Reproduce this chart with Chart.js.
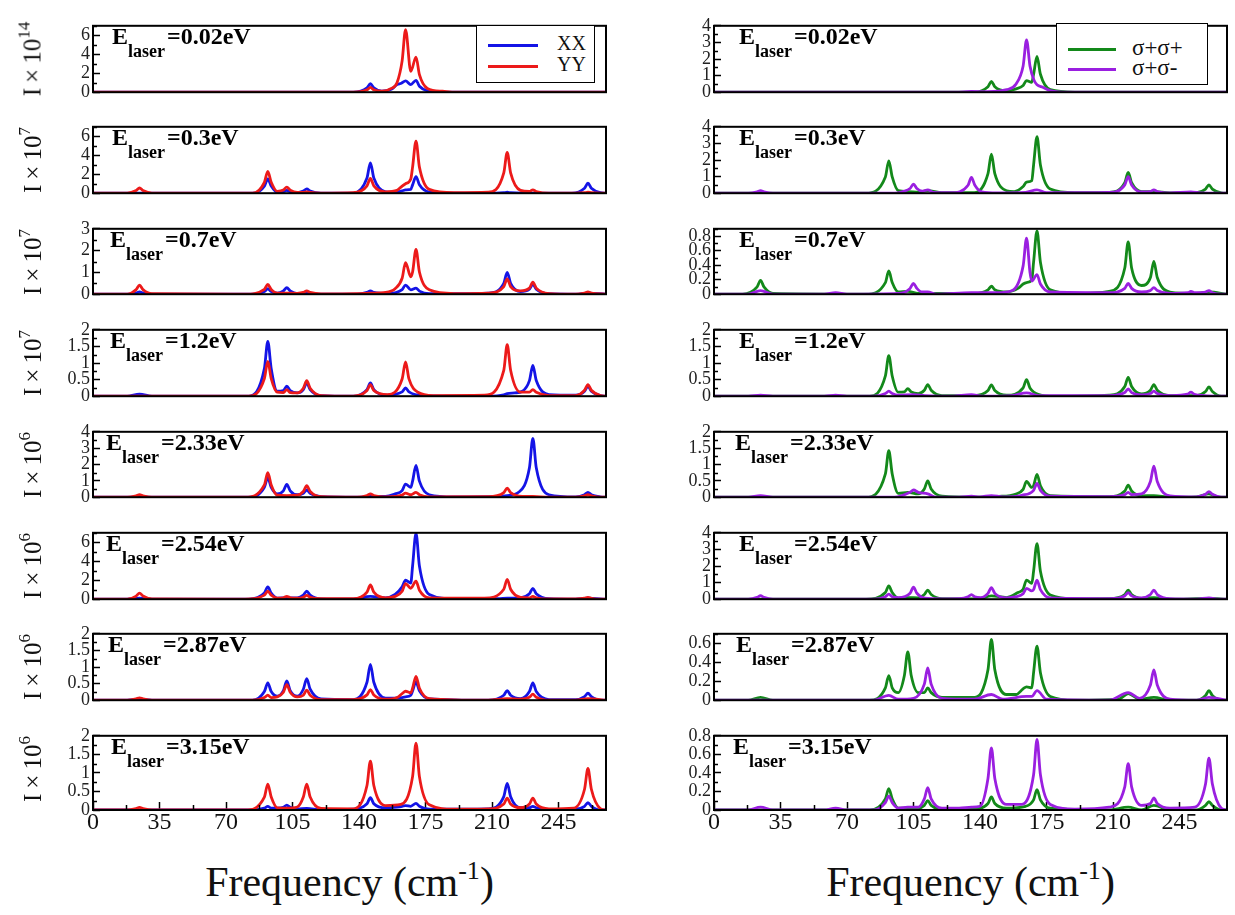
<!DOCTYPE html>
<html><head><meta charset="utf-8">
<script src="https://cdn.jsdelivr.net/npm/chart.js@4.4.1/dist/chart.umd.min.js"></script>
<style>
html,body{margin:0;padding:0;background:#fff;}
body{width:1235px;height:915px;position:relative;overflow:hidden;font-family:"Liberation Serif","Times New Roman",serif;color:#111;}
canvas{position:absolute;}
.yt{position:absolute;transform:translate(-50%,-50%) rotate(-90deg);white-space:nowrap;font-size:25px;line-height:1;}
.yt sup{font-size:17px;vertical-align:11px;line-height:1;}
.el{position:absolute;font-weight:bold;font-size:24px;line-height:1;white-space:nowrap;color:#000;}
.el sub{font-size:18px;vertical-align:-13px;line-height:1;margin-right:2px;}
.box{position:absolute;border:1.5px solid #000;background:#fff;box-sizing:border-box;}
.ln{position:absolute;height:3px;}
.lt{position:absolute;line-height:1;white-space:nowrap;}
.xt{position:absolute;font-size:42px;line-height:1;transform:translateX(-50%);white-space:nowrap;}
.xt sup{font-size:26px;vertical-align:17px;line-height:1;}
</style></head>
<body>
<script>
// ---------- data: Raman intensity spectra ----------
// frequency (cm^-1), intensity pairs
const L1_XX=[[0,0],[137,0],[144.2,.45],[146,.9],[147.8,.45],[152,.1],[157,.3],[160,.8],[162.3,.95],[164.5,1.2],[167.25,.8],[170,1.25],[171.8,.63],[176,.15],[184,0],[270,0]];
const L1_YY=[[0,0],[137,0],[144.2,.25],[146,.5],[147.8,.25],[152,.1],[157,.4],[160,1.0],[162.7,3.3],[164.5,6.6],[167.25,2.2],[170,3.7],[171.8,1.85],[176,.4],[184,.1],[191,0],[270,0]];
const L2_XX=[[0,0],[84,0],[90.2,.75],[92,1.5],[93.8,.75],[97,.1],[100.2,.15],[102,.3],[103.8,.15],[107.5,.05],[110.7,.22],[112.5,.45],[114.3,.22],[120,0],[137,0],[144.2,1.6],[146,3.2],[147.8,1.6],[154,.15],[160,.1],[162.7,.25],[164.5,.35],[167.25,.4],[168.2,.88],[170,1.75],[171.8,.88],[177,.12],[190,0],[212,0],[216.2,.05],[218,.1],[219.8,.05],[226,0],[252,0],[258.7,.52],[260.5,1.05],[262.3,.52],[267,.05],[270,0]];
const L2_YY=[[0,0],[18,0],[22.7,.28],[24.5,.55],[26.3,.28],[31,0],[84,0],[90.2,1.15],[92,2.3],[93.8,1.15],[97,.2],[100.2,.33],[102,.65],[103.8,.33],[107.5,.08],[110.7,.08],[112.5,.15],[114.3,.08],[120,0],[137,.05],[144.2,.78],[146,1.55],[147.8,.78],[154,.15],[160,.3],[162.7,.75],[164.5,1.0],[167.25,1.5],[168.2,2.75],[170,5.5],[171.8,2.75],[177,.4],[190,.05],[208,.1],[216.2,2.15],[218,4.3],[219.8,2.15],[225,.3],[229.7,.18],[231.5,.35],[233.3,.18],[240,0],[254,0],[258.7,.05],[260.5,.1],[262.3,.05],[270,0]];
const L3_XX=[[0,0],[18,0],[22.7,.05],[24.5,.1],[26.3,.05],[31,0],[84,0],[90.2,.12],[92,.25],[93.8,.12],[97,.05],[100.2,.15],[102,.3],[103.8,.15],[107.5,.03],[112.5,.05],[120,0],[139,0],[144.2,.08],[146,.15],[147.8,.08],[155,.03],[162.7,.21],[164.5,.42],[167.25,.2],[170,.28],[171.8,.14],[177,.02],[208,.05],[216.2,.5],[218,1.0],[219.8,.5],[225,.12],[229.7,.23],[231.5,.45],[233.3,.23],[240,.02],[254,0],[260.5,.05],[270,0]];
const L3_YY=[[0,0],[18,0],[22.7,.21],[24.5,.42],[26.3,.21],[31,.02],[80,0],[90.2,.22],[92,.45],[93.8,.22],[97,.05],[102,.05],[107.5,.04],[110.7,.08],[112.5,.15],[114.3,.08],[120,.01],[139,.02],[146,.05],[154,.08],[159,.25],[162.7,.73],[164.5,1.45],[167.25,.8],[168.2,1.02],[170,2.05],[171.8,1.02],[177,.2],[190,.03],[208,.05],[216.2,.35],[218,.7],[219.8,.35],[225,.15],[229.7,.28],[231.5,.55],[233.3,.28],[240,.03],[254,0],[258.7,.05],[260.5,.1],[262.3,.05],[270,0]];
const L4_XX=[[0,0],[18,0],[24.5,.06],[31,0],[82,0],[90.2,.83],[92,1.65],[93.8,.83],[97,.15],[100.2,.17],[102,.3],[103.8,.17],[107.5,.1],[110.7,.2],[112.5,.4],[114.3,.2],[120,.02],[137,0],[144.2,.2],[146,.4],[147.8,.2],[154,.03],[162.7,.13],[164.5,.25],[166.3,.13],[174,.02],[208,0],[216.2,.04],[218,.08],[222,.1],[226,.15],[229.7,.47],[231.5,.93],[233.3,.47],[240,.05],[254,.03],[258.7,.15],[260.5,.3],[262.3,.15],[267,.02],[270,0]];
const L4_YY=[[0,0],[82,0],[90.2,.53],[92,1.05],[93.8,.53],[97,.12],[100.2,.11],[102,.2],[103.8,.11],[107.5,.1],[110.7,.24],[112.5,.47],[114.3,.24],[120,.02],[137,0],[144.2,.17],[146,.35],[147.8,.17],[155,.05],[162.7,.52],[164.5,1.03],[166.3,.52],[171,.12],[179,.02],[206,.03],[216.2,.78],[218,1.55],[219.8,.78],[225,.12],[229.7,.12],[231.5,.2],[233.3,.12],[240,.02],[254,.02],[258.7,.18],[260.5,.35],[262.3,.18],[267,.02],[270,0]];
const L5_XX=[[0,0],[18,0],[24.5,.05],[31,0],[82,0],[90.2,.6],[92,1.2],[93.8,.6],[97,.2],[100.2,.39],[102,.78],[103.8,.39],[107.5,.15],[110.7,.23],[112.5,.45],[114.3,.23],[120,.03],[139,0],[146,.05],[154,.05],[159,.2],[162.7,.4],[164.5,.8],[167.25,.6],[168.2,.98],[170,1.95],[171.8,.98],[177,.15],[190,.02],[213,.05],[218,.1],[224,.3],[229.7,1.8],[231.5,3.6],[233.3,1.8],[240,.15],[254,.02],[258.7,.15],[260.5,.3],[262.3,.15],[267,.02],[270,0]];
const L5_YY=[[0,0],[18,0],[22.7,.08],[24.5,.15],[26.3,.08],[31,0],[80,0],[90.2,.75],[92,1.5],[93.8,.75],[97,.12],[102,.1],[107.5,.12],[110.7,.35],[112.5,.7],[114.3,.35],[120,.03],[139,0],[144.2,.1],[146,.2],[147.8,.1],[155,.02],[162.7,.13],[164.5,.25],[167.25,.15],[170,.3],[171.8,.15],[177,.02],[208,.03],[216.2,.28],[218,.55],[219.8,.28],[226,.05],[231.5,.05],[240,0],[254,0],[258.7,.08],[260.5,.15],[262.3,.08],[267,0],[270,0]];
const L6_XX=[[0,0],[18,0],[24.5,.1],[31,0],[82,0],[90.2,.65],[92,1.3],[93.8,.65],[97,.12],[102,.15],[107.5,.15],[110.7,.43],[112.5,.85],[114.3,.43],[120,.04],[137,0],[146,.3],[154,.15],[159,.5],[162.7,1.3],[164.5,2.0],[167.25,1.7],[168.2,3.5],[170,6.95],[171.8,3.5],[177,.5],[190,.05],[213,.05],[218,.1],[225,.15],[229.7,.58],[231.5,1.15],[233.3,.58],[240,.05],[254,0],[260.5,.1],[270,0]];
const L6_YY=[[0,0],[18,0],[22.7,.33],[24.5,.65],[26.3,.33],[31,.02],[80,0],[90.2,.43],[92,.85],[93.8,.43],[97,.12],[100.2,.15],[102,.3],[103.8,.15],[107.5,.1],[110.7,.2],[112.5,.4],[114.3,.2],[120,.05],[137,.05],[144.2,.75],[146,1.5],[147.8,.75],[154,.15],[159,.3],[162.7,.83],[164.5,1.65],[167.25,1.15],[170,1.9],[171.8,.95],[177,.15],[206,.1],[216.2,1.05],[218,2.1],[219.8,1.05],[225,.2],[229.7,.15],[231.5,.3],[233.3,.15],[240,.02],[254,.02],[258.7,.1],[260.5,.2],[262.3,.1],[267,0],[270,0]];
const L7_XX=[[0,0],[18,0],[24.5,.03],[31,0],[84,0],[90.2,.26],[92,.52],[93.8,.26],[97,.12],[100.2,.29],[102,.58],[103.8,.29],[107.5,.12],[110.7,.33],[112.5,.65],[114.3,.33],[120,.04],[137,.02],[144.2,.54],[146,1.08],[147.8,.54],[154,.06],[162.7,.08],[164.5,.1],[167.25,.15],[168.2,.28],[170,.55],[171.8,.28],[177,.04],[208,0],[216.2,.15],[218,.29],[219.8,.15],[225,.05],[229.7,.26],[231.5,.52],[233.3,.26],[240,.02],[254,.02],[258.7,.11],[260.5,.21],[262.3,.11],[267,0],[270,0]];
const L7_YY=[[0,0],[18,0],[22.7,.04],[24.5,.07],[26.3,.04],[31,0],[84,0],[90.2,.08],[92,.15],[93.8,.08],[97,.1],[100.2,.24],[102,.47],[103.8,.24],[107.5,.1],[110.7,.15],[112.5,.3],[114.3,.15],[120,.02],[137,.02],[144.2,.16],[146,.32],[147.8,.16],[154,.03],[160,.08],[162.7,.2],[164.5,.27],[167.25,.22],[168.2,.36],[170,.72],[171.8,.36],[177,.05],[208,0],[218,.05],[225,.03],[229.7,.09],[231.5,.18],[233.3,.09],[240,0],[254,0],[260.5,.05],[270,0]];
const L8_XX=[[0,0],[84,0],[90.2,.05],[92,.1],[93.8,.05],[97,.05],[100.2,.07],[102,.13],[103.8,.07],[107.5,.03],[112.5,.04],[120,.01],[137,.02],[144.2,.17],[146,.33],[147.8,.17],[154,.06],[160,.08],[162.7,.1],[164.5,.12],[167.25,.1],[170,.18],[171.8,.1],[177,.02],[208,.03],[216.2,.36],[218,.72],[219.8,.36],[225,.06],[229.7,.06],[231.5,.1],[233.3,.06],[240,0],[254,.02],[258.7,.1],[260.5,.2],[262.3,.1],[267,0],[270,0]];
const L8_YY=[[0,0],[18,0],[22.7,.04],[24.5,.07],[26.3,.04],[31,0],[80,0],[90.2,.35],[92,.7],[93.8,.35],[97,.06],[102,.05],[107.5,.08],[110.7,.35],[112.5,.7],[114.3,.35],[120,.04],[137,.03],[144.2,.66],[146,1.32],[147.8,.66],[154,.12],[162,.15],[168.2,.9],[170,1.8],[171.8,.9],[177,.14],[190,.02],[208,.03],[216.2,.16],[218,.32],[219.8,.16],[225,.06],[229.7,.16],[231.5,.32],[233.3,.16],[240,.03],[253,.05],[258.7,.56],[260.5,1.12],[262.3,.56],[267,.04],[270,0]];

const R1_PP=[[0,0],[137,0],[144.2,.33],[146,.65],[147.8,.33],[154,.08],[159,.2],[162.7,.4],[164.5,.7],[167.25,.6],[168.2,1.08],[170,2.15],[171.8,1.08],[177,.15],[190,0],[270,0]];
const R1_PM=[[0,0],[127,0],[135.5,.05],[144,.03],[154,.15],[159,.5],[162.7,1.58],[164.5,3.15],[166.3,1.58],[168.5,.7],[170,.45],[173,.3],[177,.1],[187,0],[270,0]];
const R2_PP=[[0,0],[80,0],[90.2,.98],[92,1.95],[93.8,.98],[97,.15],[102,.1],[107.5,.06],[112.5,.15],[120,.03],[137,.03],[144.2,1.18],[146,2.35],[147.8,1.18],[154,.15],[158,.1],[162.7,.4],[164.5,.67],[167.25,.75],[168.2,1.7],[170,3.4],[171.8,1.7],[177,.25],[190,.03],[208,.05],[216.2,.63],[218,1.25],[219.8,.63],[225,.1],[231.5,.1],[240,.02],[254,.03],[258.7,.25],[260.5,.5],[262.3,.25],[267,.02],[270,0]];
const R2_PM=[[0,0],[18,0],[22.7,.08],[24.5,.15],[26.3,.08],[31,0],[95,0],[99.5,.1],[103.2,.28],[105,.55],[106.8,.28],[109.5,.12],[112.5,.2],[115.5,.05],[125,.03],[133.7,.48],[135.5,.95],[137.3,.48],[141,.08],[149,.02],[164,.05],[170,.2],[175,.03],[208,.05],[216.2,.5],[218,1.0],[219.8,.5],[225,.08],[229.7,.1],[231.5,.2],[233.3,.1],[240,.02],[251,.08],[256,.02],[270,0]];
const R3_PP=[[0,0],[15,0],[22.7,.1],[24.5,.19],[26.3,.1],[31,.01],[80,0],[90.2,.16],[92,.32],[93.8,.16],[97,.03],[102,.04],[107.5,.01],[137,.01],[144.2,.06],[146,.11],[147.8,.06],[154,.03],[160,.08],[162.7,.14],[164.5,.16],[167.25,.2],[168.2,.44],[170,.87],[171.8,.44],[177,.06],[190,.01],[208,.04],[216.2,.36],[218,.72],[219.8,.36],[225,.12],[229.7,.23],[231.5,.45],[233.3,.23],[240,.03],[254,.01],[260.5,.03],[270,0]];
const R3_PM=[[0,0],[18,0],[24.5,.05],[31,0],[58,0],[64,.02],[70,0],[97,.01],[103.2,.08],[105,.15],[106.8,.08],[109.5,.03],[112.5,.03],[117,0],[135.5,.02],[149,.02],[157,.05],[162.7,.39],[164.5,.77],[166.3,.3],[167.25,.18],[170,.27],[171.8,.14],[177,.03],[208,.02],[216.2,.08],[218,.15],[219.8,.08],[225,.03],[229.7,.05],[231.5,.09],[233.3,.05],[240,.01],[249.5,.02],[251,.04],[253,.02],[258.7,.03],[260.5,.05],[262.3,.02],[267,0],[270,0]];
const R4_PP=[[0,0],[82,0],[90.2,.61],[92,1.22],[93.8,.61],[97,.12],[100.2,.13],[102,.23],[103.8,.13],[107.5,.08],[110.7,.18],[112.5,.35],[114.3,.18],[120,.02],[137,.02],[144.2,.17],[146,.34],[147.8,.17],[154,.03],[162.7,.25],[164.5,.5],[166.3,.25],[171,.05],[179,0],[208,.03],[216.2,.29],[218,.57],[219.8,.29],[225,.07],[229.7,.18],[231.5,.35],[233.3,.18],[240,.02],[254,.02],[258.7,.14],[260.5,.28],[262.3,.14],[267,0],[270,0]];
const R4_PM=[[0,0],[18,0],[24.5,.03],[31,0],[58,0],[64,.03],[70,0],[84,0],[90.2,.08],[92,.15],[93.8,.08],[97,.03],[105,.05],[111,.02],[125,0],[135.5,.05],[141,0],[157,.02],[164.5,.1],[171,.02],[208,.02],[216.2,.11],[218,.22],[219.8,.11],[225,.04],[229.7,.08],[231.5,.15],[233.3,.08],[241,.02],[249.2,.06],[251,.12],[252.8,.06],[258,.02],[270,0]];
const R5_PP=[[0,0],[80,0],[90.2,.71],[92,1.42],[93.8,.71],[97,.12],[102,.15],[107.5,.1],[110.7,.25],[112.5,.5],[114.3,.25],[120,.03],[139,0],[149,.02],[159,.1],[162.7,.24],[164.5,.48],[167.25,.3],[168.2,.35],[170,.7],[171.8,.35],[177,.05],[208,.02],[216.2,.19],[218,.37],[219.8,.19],[225,.04],[231.5,.05],[240,0],[254,.01],[260.5,.1],[266,0],[270,0]];
const R5_PM=[[0,0],[18,0],[24.5,.05],[31,0],[95,0],[103.2,.15],[105,.22],[107.5,.15],[112.5,.1],[117,0],[129,0],[135.5,.03],[140,.01],[146,.05],[152,.01],[162,.06],[168.2,.21],[170,.42],[171.8,.21],[177,.03],[208,.02],[216.2,.08],[218,.15],[219.8,.08],[225,.1],[229.7,.48],[231.5,.95],[233.3,.48],[240,.04],[254,.01],[258.7,.09],[260.5,.17],[262.3,.09],[267,0],[270,0]];
const R6_PP=[[0,0],[80,0],[90.2,.4],[92,.8],[93.8,.4],[97,.07],[102,.1],[107.5,.08],[110.7,.28],[112.5,.55],[114.3,.28],[120,.03],[139,.02],[146,.2],[154,.1],[160,.4],[162.7,.6],[164.5,1.15],[167.25,.95],[168.2,1.68],[170,3.35],[171.8,1.68],[177,.25],[190,.02],[208,.03],[216.2,.28],[218,.55],[219.8,.28],[225,.05],[231.5,.1],[240,0],[260.5,.05],[270,0]];
const R6_PM=[[0,0],[18,0],[22.7,.11],[24.5,.22],[26.3,.11],[31,0],[84,0],[90.2,.15],[92,.3],[93.8,.15],[97,.1],[103.2,.36],[105,.72],[106.8,.36],[111,.06],[120,.02],[129,.03],[133.7,.14],[135.5,.28],[137.3,.14],[140.5,.1],[144.2,.35],[146,.7],[147.8,.35],[154,.08],[159,.15],[162.7,.33],[164.5,.65],[167.25,.5],[168.2,.58],[170,1.15],[171.8,.58],[177,.08],[208,.04],[216.2,.2],[218,.4],[219.8,.2],[225,.08],[229.7,.28],[231.5,.55],[233.3,.28],[240,.03],[254,.01],[260.5,.08],[266,0],[270,0]];
const R7_PP=[[0,0],[18,0],[24.5,.03],[31,0],[82,0],[90.2,.13],[92,.26],[93.8,.13],[97,.08],[100.2,.26],[102,.51],[103.8,.26],[107.5,.08],[110.7,.08],[112.5,.13],[114.3,.08],[120,.03],[137,.03],[144.2,.32],[146,.64],[147.8,.32],[154,.06],[159,.06],[162.7,.12],[164.5,.14],[167.25,.13],[168.2,.29],[170,.57],[171.8,.29],[177,.04],[190,0],[213,.01],[218,.07],[224,.01],[231.5,.03],[240,0],[254,0],[258.7,.05],[260.5,.1],[262.3,.05],[267,0],[270,0]];
const R7_PM=[[0,0],[84,0],[92,.05],[97,.01],[105,.02],[110.7,.17],[112.5,.34],[114.3,.17],[120,.02],[137,.01],[146,.06],[152,.01],[164.5,.04],[167.25,.04],[170,.1],[175,.01],[208,0],[218,.08],[224,.02],[229.7,.16],[231.5,.32],[233.3,.16],[240,.01],[254,0],[260.5,.03],[270,0]];
const R8_PP=[[0,0],[82,0],[90.2,.12],[92,.23],[93.8,.12],[97,.02],[107.5,.02],[110.7,.05],[112.5,.1],[114.3,.05],[120,.01],[137,.01],[144.2,.07],[146,.14],[147.8,.07],[154,.02],[164,.04],[168.2,.11],[170,.22],[171.8,.11],[177,.02],[208,0],[218,.03],[225,0],[231.5,.05],[240,0],[254,0],[258.7,.05],[260.5,.09],[262.3,.05],[267,0],[270,0]];
const R8_PM=[[0,0],[18,0],[24.5,.03],[31,0],[58,0],[64,.02],[70,0],[84,0],[90.2,.08],[92,.15],[93.8,.08],[97,.02],[102,.03],[107.5,.03],[110.7,.12],[112.5,.24],[114.3,.12],[120,.02],[129,.02],[135.5,.03],[140,.04],[144.2,.34],[146,.67],[147.8,.34],[154,.06],[162,.06],[168.2,.38],[170,.76],[171.8,.38],[177,.06],[190,.01],[208,.03],[216.2,.25],[218,.5],[219.8,.25],[225,.05],[229.7,.07],[231.5,.13],[233.3,.07],[240,.02],[253,.03],[258.7,.28],[260.5,.56],[262.3,.28],[267,.02],[270,0]];

const ENERGIES=['0.02','0.3','0.7','1.2','2.33','2.54','2.87','3.15'];
const LEFT_EXP=['14','7','7','7','6','6','6','6'];
const LEFT_YMAX=[7,7,3,2,4,7,2,2];
const LEFT_YSTEP=[2,2,1,0.5,1,2,0.5,0.5];
const LEFT_YMINOR=[1,1,0.5,0.25,0.5,1,0.25,0.25];
const RIGHT_YMAX=[4,4,0.9,2,2,4,0.7,0.8];
const RIGHT_YSTEP=[1,1,0.2,0.5,0.5,1,0.2,0.2];
const RIGHT_YMINOR=[0.5,0.5,0.1,0.25,0.25,0.5,0.1,0.1];
const X_MAX=270, X_STEP=35, X_MINOR=17.5;
const LEFT_NAMES=['XX','YY'];
const RIGHT_NAMES=['\u03c3+\u03c3+','\u03c3+\u03c3-'];

const LEFT_XX=[L1_XX,L2_XX,L3_XX,L4_XX,L5_XX,L6_XX,L7_XX,L8_XX];
const LEFT_YY=[L1_YY,L2_YY,L3_YY,L4_YY,L5_YY,L6_YY,L7_YY,L8_YY];
const RIGHT_PP=[R1_PP,R2_PP,R3_PP,R4_PP,R5_PP,R6_PP,R7_PP,R8_PP];
const RIGHT_PM=[R1_PM,R2_PM,R3_PM,R4_PM,R5_PM,R6_PM,R7_PM,R8_PM];

// ---------- styling / layout ----------
const FONT='"Liberation Serif","Times New Roman",serif';
const C_BLUE='#1414e6', C_RED='#ec1a1a', C_GREEN='#13891a', C_PURPLE='#9a1fe0';
const ROW_TOP=[17,118,220,321,423,524,625,727];
const ROW_BOTTOM=[101,202,303,405,506,608,709,810];
const COLS={
  left:{cl:0,cw:615,pl:93,pr:606,ex:[112,112,110,110,106,106,108,111]},
  right:{cl:620,cw:615,pl:714,pr:1227,ex:[739,739,739,739,735,739,736,733]}
};

const frameTicks={
  id:'frameTicks',
  afterDatasetsDraw(chart,args,o){
    const {ctx,chartArea:a}=chart;const ys=chart.scales.y,xs=chart.scales.x;
    ctx.save();ctx.strokeStyle='#000';ctx.lineWidth=1.5;ctx.beginPath();
    const n=Math.round(ys.max/o.minor);
    for(let k=1;k<=n;k++){const v=k*o.minor;const r=v/o.step;if(Math.abs(r-Math.round(r))<1e-6)continue;
      const p=Math.round(ys.getPixelForValue(v))+0.5;ctx.moveTo(a.left,p);ctx.lineTo(a.left+4,p);}
    if(o.xTicks){for(let v=X_MINOR;v<X_MAX;v+=X_STEP){const p=Math.round(xs.getPixelForValue(v))+0.5;ctx.moveTo(p,a.bottom);ctx.lineTo(p,a.bottom-5);}}
    ctx.stroke();ctx.lineWidth=2;ctx.strokeRect(a.left,a.top,a.right-a.left,a.bottom-a.top);ctx.restore();
  }
};
const fmt=v=>String(+(+v).toFixed(2));

function makePanel(col,i,series,colors,ymax,ystep,yminor){
  const top=ROW_TOP[i],bottom=ROW_BOTTOM[i],last=(i===7);
  const padTop=12,extra=last?45:12;
  const cv=document.createElement('canvas');
  cv.width=col.cw;cv.height=(bottom-top)+padTop+extra;
  cv.style.left=col.cl+'px';cv.style.top=(top-padTop)+'px';
  document.body.appendChild(cv);
  const xOpts={type:'linear',min:0,max:X_MAX,display:last,
     ticks:{stepSize:X_STEP,includeBounds:false,autoSkip:false,maxRotation:0,font:{family:FONT,size:24},color:'#111',padding:6},
     grid:{drawOnChartArea:false,tickLength:-8,tickColor:'#000',tickWidth:1.5},border:{display:false}};
  if(last) xOpts.afterFit=s=>{s.height=45;};
  new Chart(cv,{
    type:'line',
    data:{datasets:series.map((d,k)=>({data:d,borderColor:colors[k],borderWidth:2.8,pointRadius:0,fill:false,cubicInterpolationMode:'monotone'}))},
    options:{
      responsive:false,animation:false,devicePixelRatio:1,
      layout:{padding:{top:padTop,bottom:last?0:12,left:0,right:col.cl+col.cw-col.pr}},
      plugins:{legend:{display:false},tooltip:{enabled:false},frameTicks:{minor:yminor,step:ystep,xTicks:last}},
      scales:{
        x:xOpts,
        y:{min:0,max:ymax,afterFit:s=>{s.width=col.pl-col.cl;},
           ticks:{stepSize:ystep,includeBounds:false,autoSkip:false,font:{family:FONT,size:18},color:'#222',padding:10,callback:v=>fmt(v)},
           grid:{drawOnChartArea:false,tickLength:-7,tickColor:'#000',tickWidth:1.5},border:{display:false}}
      }
    },
    plugins:[frameTicks]
  });
  const el=document.createElement('div');el.className='el';
  el.style.left=col.ex[i]+'px';el.style.top=(top+27-20)+'px';
  el.innerHTML='E<sub>laser</sub>='+ENERGIES[i]+'eV';
  document.body.appendChild(el);
}

for(let i=0;i<8;i++){
  makePanel(COLS.left,i,[LEFT_YY[i],LEFT_XX[i]],[C_RED,C_BLUE],LEFT_YMAX[i],LEFT_YSTEP[i],LEFT_YMINOR[i]);
  makePanel(COLS.right,i,[RIGHT_PM[i],RIGHT_PP[i]],[C_PURPLE,C_GREEN],RIGHT_YMAX[i],RIGHT_YSTEP[i],RIGHT_YMINOR[i]);
  const yt=document.createElement('div');yt.className='yt';
  yt.style.left='30px';yt.style.top=((ROW_TOP[i]+ROW_BOTTOM[i])/2)+'px';
  yt.innerHTML='I\u2009\u00d7\u200910<sup>'+LEFT_EXP[i]+'</sup>';
  document.body.appendChild(yt);
}

function legend(box,items){
  const b=document.createElement('div');b.className='box';
  Object.assign(b.style,{left:box.x+'px',top:box.y+'px',width:box.w+'px',height:box.h+'px'});
  document.body.appendChild(b);
  items.forEach(it=>{
    const l=document.createElement('div');l.className='ln';
    Object.assign(l.style,{left:it.lx+'px',top:(it.y-1.5)+'px',width:it.lw+'px',background:it.c});
    document.body.appendChild(l);
    const t=document.createElement('div');t.className='lt';
    Object.assign(t.style,{left:it.tx+'px',top:(it.y-it.fs*0.58)+'px',fontSize:it.fs+'px'});
    t.textContent=it.t;document.body.appendChild(t);
  });
}
legend({x:476,y:25,w:119,h:58},[
  {t:LEFT_NAMES[0],c:C_BLUE,y:45,lx:488,lw:50,tx:557,fs:20},
  {t:LEFT_NAMES[1],c:C_RED,y:66,lx:488,lw:50,tx:557,fs:20}]);
legend({x:1056,y:23,w:152,h:62},[
  {t:RIGHT_NAMES[0],c:C_GREEN,y:49,lx:1068,lw:48,tx:1132,fs:23},
  {t:RIGHT_NAMES[1],c:C_PURPLE,y:69,lx:1068,lw:48,tx:1132,fs:23}]);

[349.5,970.5].forEach(cx=>{
  const t=document.createElement('div');t.className='xt';
  t.style.left=cx+'px';t.style.top='858px';
  t.innerHTML='Frequency (cm<sup>-1</sup>)';
  document.body.appendChild(t);
});
</script>
</body></html>
